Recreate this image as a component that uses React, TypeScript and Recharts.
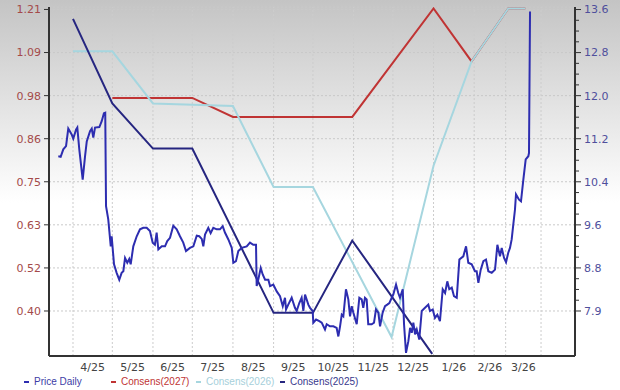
import { LineChart, Line, XAxis, YAxis, CartesianGrid, ReferenceLine, Legend } from "recharts";

// x values are days counted from 1 Apr 2025
const monthStarts = [0, 30, 61, 91, 122, 153, 183, 214, 244, 275, 306, 330, 357];
const monthLabels = ["4/25", "5/25", "6/25", "7/25", "8/25", "9/25", "10/25", "11/25", "12/25", "1/26", "2/26", "3/26"];
const labelDays = monthLabels.map((_, i) => (monthStarts[i] + monthStarts[i + 1]) / 2);

// left axis (consensus EPS) and right axis (price)
const consensTicks = [0.4, 0.5156, 0.6313, 0.7469, 0.8625, 0.9781, 1.0938, 1.2094];
const priceTicks = [7.94, 8.7525, 9.565, 10.3775, 11.19, 12.0025, 12.815, 13.6275];
const priceMinorTicks = priceTicks.flatMap((t, i) =>
    i === 0 ? [t] : [1, 2, 3, 4].map((k) => priceTicks[i - 1] + ((t - priceTicks[i - 1]) * k) / 4)
);

const consens2027: [number, number][] = [
    [30, 0.972], [91, 0.972], [122, 0.921], [213, 0.921], [275, 1.212], [304, 1.07], [332, 1.212], [345, 1.212],
];
const consens2026: [number, number][] = [
    [0, 1.097], [30, 1.097], [61, 0.957], [122, 0.95], [153, 0.733], [183, 0.733], [243, 0.33],
    [275, 0.79], [304, 1.07], [332, 1.212], [345, 1.212],
];
const consens2025: [number, number][] = [
    [0, 1.184], [30, 0.957], [61, 0.836], [91, 0.836], [153, 0.395], [183, 0.395], [213, 0.589], [274, 0.285],
];

const priceDaily: [number, number][] = [
    [-11.2, 10.86], [-9.4, 10.85], [-7.4, 10.99], [-5.3, 11.05], [-3.6, 11.38], [-1.0, 11.27], [0.2, 11.19],
    [2.3, 11.36], [3.3, 11.4], [4.8, 10.99], [7.4, 10.42], [9.2, 10.86], [10.5, 11.14], [13.0, 11.33],
    [14.3, 11.38], [15.5, 11.21], [16.8, 11.4], [20.1, 11.41], [21.9, 11.52], [23.6, 11.67], [24.6, 11.68],
    [25.2, 9.92], [26.9, 9.67], [28.8, 9.16], [29.5, 9.35], [31.3, 8.82], [33.3, 8.66], [35.3, 8.53],
    [37.1, 8.66], [38.4, 8.69], [39.7, 8.94], [41.4, 8.85], [42.9, 8.92], [44.0, 8.82], [46.0, 9.16],
    [48.6, 9.35], [51.1, 9.48], [53.6, 9.51], [56.2, 9.51], [58.7, 9.45], [60.8, 9.23], [62.5, 9.19],
    [63.8, 9.42], [65.1, 9.1], [67.7, 9.16], [70.2, 9.16], [71.9, 9.26], [74.0, 9.32], [76.5, 9.55],
    [79.1, 9.48], [81.6, 9.35], [84.1, 9.23], [86.2, 9.07], [89.2, 9.13], [91.8, 9.16], [94.4, 9.36],
    [96.3, 9.35], [98.2, 9.3], [99.4, 9.16], [100.7, 9.38], [103.2, 9.51], [105.0, 9.41], [107.0, 9.51],
    [109.6, 9.48], [112.1, 9.48], [114.2, 9.54], [115.9, 9.42], [118.5, 9.29], [121.1, 9.13], [122.3, 8.85],
    [124.3, 8.88], [126.1, 9.07], [128.7, 9.13], [132.5, 9.16], [135.0, 9.23], [137.5, 9.19], [139.6, 9.19],
    [140.1, 8.41], [141.3, 8.53], [143.2, 8.75], [144.7, 8.63], [146.5, 8.53], [149.0, 8.53], [150.3, 8.41],
    [152.8, 8.44], [155.4, 8.31], [157.9, 8.22], [160.0, 8.03], [161.7, 8.19], [162.5, 7.97], [164.2, 8.06],
    [166.8, 8.19], [169.3, 8.0], [170.6, 7.94], [172.6, 8.09], [174.4, 8.19], [175.7, 7.94], [177.0, 8.25],
    [179.5, 8.06], [180.8, 8.0], [182.8, 7.94], [183.3, 7.72], [185.4, 7.78], [187.9, 7.75], [189.7, 7.72],
    [192.2, 7.59], [193.5, 7.69], [196.0, 7.65], [198.6, 7.65], [201.1, 7.62], [202.4, 7.46], [203.7, 7.65],
    [205.0, 7.87], [206.2, 7.84], [208.2, 8.35], [210.0, 8.16], [211.3, 7.84], [212.6, 8.03], [213.8, 7.91],
    [216.4, 7.69], [218.4, 8.19], [220.2, 8.16], [221.4, 8.0], [222.7, 8.19], [224.0, 8.16], [225.2, 7.69],
    [227.8, 7.69], [229.6, 7.72], [231.1, 7.97], [232.9, 7.91], [234.2, 7.65], [236.2, 7.91], [238.0, 8.03],
    [239.7, 8.06], [241.3, 8.09], [243.1, 8.19], [244.3, 8.25], [246.4, 8.44], [248.1, 8.28], [249.4, 8.19],
    [251.5, 8.35], [252.5, 7.69], [254.0, 7.15], [255.8, 7.37], [257.1, 7.62], [258.4, 7.53], [259.6, 7.72],
    [260.9, 7.5], [262.2, 7.59], [264.1, 7.4], [266.0, 7.94], [268.5, 8.0], [271.0, 8.06], [272.3, 7.94],
    [274.4, 7.97], [276.1, 7.81], [277.9, 7.87], [279.9, 7.75], [282.0, 8.35], [283.8, 8.28], [285.5, 8.5],
    [287.0, 8.35], [288.9, 8.38], [290.6, 8.22], [292.7, 8.19], [294.7, 8.91], [297.7, 8.97], [299.8, 9.16],
    [301.5, 8.85], [304.1, 8.82], [306.6, 8.69], [307.9, 8.69], [309.2, 8.47], [311.0, 8.72], [313.0, 8.88],
    [315.0, 8.91], [316.8, 8.69], [319.4, 8.66], [321.9, 8.72], [323.7, 9.19], [325.7, 8.97], [327.0, 9.13],
    [328.8, 8.94], [330.3, 8.86], [332.0, 9.04], [333.3, 9.13], [334.6, 9.29], [335.7, 9.54], [337.1, 9.85],
    [337.9, 10.14], [340.2, 10.04], [341.7, 10.01], [343.5, 10.42], [345.3, 10.8], [347.3, 10.86],
    [347.8, 10.92], [348.6, 13.59],
];

const toRows = (pts: [number, number][]) => pts.map(([d, v]) => ({ d, v }));

const FONT = "DejaVu Sans";

const legendItems = [
    { name: "Price Daily", color: "#2d2db0", text: "#3d3da6", left: 24 },
    { name: "Consens(2027)", color: "#c03434", text: "#c03434", left: 111 },
    { name: "Consens(2026)", color: "#a6d6df", text: "#a6cfda", left: 196 },
    { name: "Consens(2025)", color: "#262680", text: "#38388c", left: 280 },
];

function PriceTick(props: any) {
    const { x, y, payload } = props;
    const major = priceTicks.some((t) => Math.abs(t - payload.value) < 1e-6);
    return (
        <g>
            <line x1={x} x2={x + (major ? 6 : 4)} y1={y} y2={y} stroke="#333" strokeWidth={1} />
            {major && (
                <text x={x + 9} y={y} dy="0.35em" fill="#4f4f9c" fontSize={11} fontFamily={FONT}>
                    {payload.value.toFixed(1)}
                </text>
            )}
        </g>
    );
}

function renderLegend() {
    return (
        <div style={{ position: "relative", height: 16, fontFamily: "Liberation Sans", fontSize: 10 }}>
            {legendItems.map((it) => (
                <div key={it.name} style={{ position: "absolute", left: it.left, top: 1, display: "flex", alignItems: "center" }}>
                    <span style={{ display: "inline-block", width: 5, height: 2, background: it.color, marginRight: 5 }} />
                    <span style={{ color: it.text, lineHeight: "14px" }}>{it.name}</span>
                </div>
            ))}
        </div>
    );
}

export default function App() {
    return (
        <div
            style={{
                position: "absolute",
                top: 0,
                left: 0,
                width: 620,
                height: 390,
                background: "linear-gradient(to bottom, #c4c4c4 0%, #e4e4e4 28%, #ffffff 52%)",
            }}
        >
            <LineChart width={620} height={390} margin={{ top: 7, right: 5, left: 4, bottom: 0 }}>
                <CartesianGrid yAxisId="eps" vertical={false} stroke="#c9c9c9" strokeDasharray="2 2" />
                <XAxis
                    type="number"
                    dataKey="d"
                    domain={[-18.3, 382.9]}
                    ticks={labelDays}
                    tickFormatter={(v: number) => monthLabels[labelDays.indexOf(v)] ?? ""}
                    tick={{ fill: "#444", fontSize: 11, fontFamily: FONT }}
                    tickLine={false}
                    tickSize={5}
                    tickMargin={2}
                    axisLine={{ stroke: "#333", strokeWidth: 2 }}
                    height={18}
                    interval={0}
                    allowDataOverflow
                />
                <YAxis
                    yAxisId="eps"
                    orientation="left"
                    type="number"
                    domain={[0.2792, 1.216]}
                    ticks={consensTicks}
                    tickFormatter={(v: number) => v.toFixed(2)}
                    tick={{ fill: "#a44a4a", fontSize: 11, fontFamily: FONT }}
                    tickSize={5}
                    tickMargin={3}
                    tickLine={{ stroke: "#333" }}
                    axisLine={{ stroke: "#333", strokeWidth: 2 }}
                    width={45}
                    interval={0}
                    allowDataOverflow
                />
                <YAxis
                    yAxisId="price"
                    orientation="right"
                    type="number"
                    domain={[7.091, 13.675]}
                    ticks={priceMinorTicks}
                    tick={<PriceTick />}
                    tickLine={false}
                    tickSize={0}
                    tickMargin={0}
                    axisLine={{ stroke: "#333", strokeWidth: 2 }}
                    width={40}
                    interval={0}
                    allowDataOverflow
                />
                {monthStarts.map((d) => (
                    <ReferenceLine key={d} yAxisId="eps" x={d} stroke="#cccccc" strokeDasharray="2 2" />
                ))}
                <Legend verticalAlign="bottom" height={16} content={renderLegend} wrapperStyle={{ left: 0, width: 620 }} />
                <Line
                    yAxisId="eps"
                    data={toRows(consens2027)}
                    dataKey="v"
                    type="linear"
                    stroke="#c03434"
                    strokeWidth={2}
                    dot={false}
                    isAnimationActive={false}
                />
                <Line
                    yAxisId="eps"
                    data={toRows(consens2026)}
                    dataKey="v"
                    type="linear"
                    stroke="#a6d6df"
                    strokeWidth={2}
                    dot={false}
                    isAnimationActive={false}
                />
                <Line
                    yAxisId="eps"
                    data={toRows(consens2025)}
                    dataKey="v"
                    type="linear"
                    stroke="#262680"
                    strokeWidth={2}
                    dot={false}
                    isAnimationActive={false}
                />
                <Line
                    yAxisId="price"
                    data={toRows(priceDaily)}
                    dataKey="v"
                    type="linear"
                    stroke="#2d2db0"
                    strokeWidth={2}
                    dot={false}
                    isAnimationActive={false}
                />
            </LineChart>
        </div>
    );
}
